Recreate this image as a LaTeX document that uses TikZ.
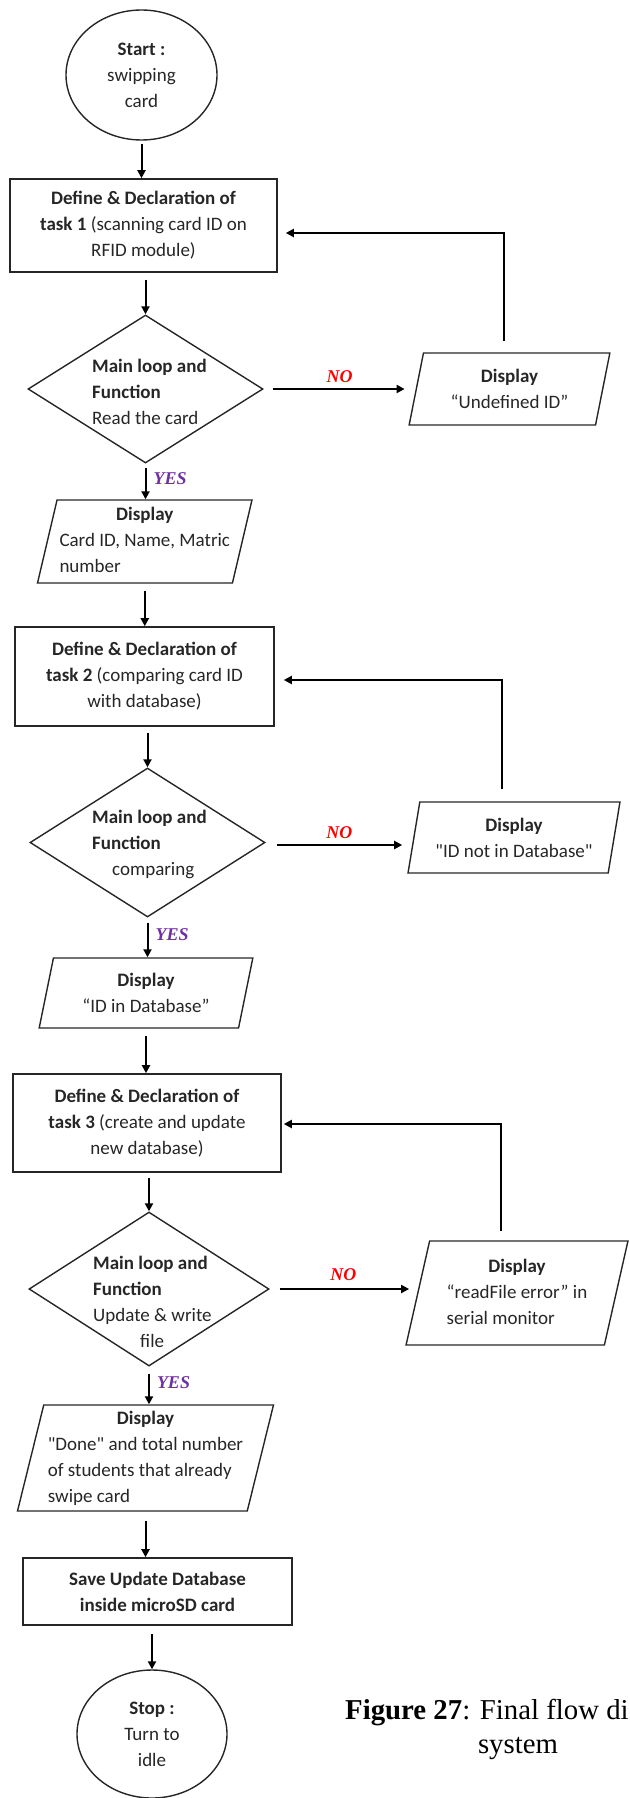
\documentclass[tikz,border=0pt]{standalone}
\usepackage{fontspec}
\setmainfont{Carlito}
\newfontfamily\capfont{Liberation Serif}
\usetikzlibrary{arrows.meta,positioning,shapes.geometric}
\definecolor{txtdk}{HTML}{262626}
\definecolor{nored}{HTML}{FF0000}
\definecolor{yespurple}{HTML}{7030A0}
\newcommand{\flowfont}{\fontsize{19}{26}\selectfont}
\tikzset{
  term/.style     = {ellipse, draw=black!85, line width=1.4pt, font=\flowfont,
                     text=txtdk, align=center, inner sep=0pt},
  procbox/.style  = {rectangle, draw=black!85, line width=1.6pt, font=\flowfont,
                     text=txtdk, align=center, inner sep=2pt},
  decis/.style    = {diamond, draw=black!85, line width=1.4pt, inner sep=0pt},
  decistxt/.style = {font=\flowfont, text=txtdk, align=left, inner sep=0pt, anchor=west},
  iobox/.style    = {trapezium, trapezium left angle=76.5, trapezium right angle=103.5,
                     trapezium stretches=true, draw=black!85, line width=1.4pt,
                     font=\flowfont, text=txtdk, align=center, inner sep=1pt},
  arr/.style      = {-{Triangle[length=8pt,width=8pt]}, line width=2pt, black},
  nolab/.style    = {font=\capfont\fontsize{18}{18}\selectfont\bfseries\itshape,
                     text=nored, inner sep=1pt},
  yeslab/.style   = {font=\capfont\fontsize{18}{18}\selectfont\bfseries\itshape,
                     text=yespurple, inner sep=1pt},
  capt/.style     = {font=\capfont\fontsize{28.8}{30}\selectfont, inner sep=0pt},
}

\begin{document}
\begin{tikzpicture}[x=1pt,y=-1pt]
  \clip (0,0) rectangle (629,1798);

  % main column
  \node[term, minimum width=151pt, minimum height=130pt] (start) at (141.5,75)
    {\textbf{Start :}\\swipping\\card};
  \node[procbox, minimum width=267pt, minimum height=93pt] (box1) at (143.5,225.5)
    {\textbf{Define \& Declaration of}\\\textbf{task 1} (scanning card ID on\\RFID module)};
  \node[decis, minimum width=235pt, minimum height=148pt] (d1) at (145.5,389) {};
  \node[decistxt] (d1txt) at (92,392)
    {\textbf{Main loop and}\\\textbf{Function}\\Read the card};
  \node[iobox, minimum width=215pt, minimum height=83pt] (io2) at (144.75,541.5)
    {\begin{tabular}{@{}l@{}}\multicolumn{1}{@{}c@{}}{\textbf{Display}}\\Card ID, Name, Matric\\number\end{tabular}};
  \node[procbox, minimum width=259pt, minimum height=99pt] (box2) at (144.5,676.5)
    {\textbf{Define \& Declaration of}\\\textbf{task 2} (comparing card ID\\with database)};
  \node[decis, minimum width=235pt, minimum height=149pt] (d2) at (147.5,842.5) {};
  \node[decistxt] (d2txt) at (92,844)
    {\textbf{Main loop and}\\\textbf{Function}\\\hspace*{20pt}comparing};
  \node[iobox, minimum width=214pt, minimum height=70pt] (io3) at (146,993)
    {\textbf{Display}\\“ID in Database”};
  \node[procbox, minimum width=268pt, minimum height=98pt] (box3) at (147,1123)
    {\textbf{Define \& Declaration of}\\\textbf{task 3} (create and update\\new database)};
  \node[decis, minimum width=240pt, minimum height=154pt] (d3) at (149,1289) {};
  \node[decistxt] (d3txt) at (93,1301.5)
    {\textbf{Main loop and}\\\textbf{Function}\\Update \& write\\\hspace*{47pt}file};
  \node[iobox, minimum width=257pt, minimum height=100pt] (io4) at (145.5,1458)
    {\begin{tabular}{@{}l@{}}\multicolumn{1}{@{}c@{}}{\textbf{Display}}\\\textquotedbl Done\textquotedbl{} and total number\\of students that already\\swipe card\end{tabular}};
  \node[procbox, minimum width=269pt, minimum height=67pt] (box4) at (157.5,1591.5)
    {\textbf{Save Update Database}\\\textbf{inside microSD card}};
  \node[term, minimum width=150pt, minimum height=128pt] (stop) at (152,1734)
    {\textbf{Stop :}\\Turn to\\idle};

  % error outputs
  \node[iobox, minimum width=201pt, minimum height=72pt] (io1) at (509.5,389)
    {\textbf{Display}\\“Undefined ID”};
  \node[iobox, minimum width=212pt, minimum height=71pt] (io2r) at (514,837.5)
    {\textbf{Display}\\\textquotedbl ID not in Database\textquotedbl};
  \node[iobox, minimum width=222pt, minimum height=104pt] (io3r) at (517,1293)
    {\begin{tabular}{@{}l@{}}\multicolumn{1}{@{}c@{}}{\textbf{Display}}\\“readFile error” in\\serial monitor\end{tabular}};

  % caption
  \node[capt, anchor=west] (cap1) at (345,1713) {\textbf{Figure 27}: Final flow di};
  \node[capt] (cap2) at (518,1748) {system};

  % flow
  \draw[arr, shorten <=3pt] (start.south) -- (start.south |- box1.north);
  \draw[arr, shorten <=7pt] (box1.south -| d1.north) -- (d1.north);
  \draw[arr, shorten <=4pt] (d1.south) -- (d1.south |- io2.north)
    node[yeslab, midway, right, xshift=6pt, yshift=3pt] {YES};
  \draw[arr, shorten <=7pt] (io2.south) -- (io2.south |- box2.north);
  \draw[arr, shorten <=6pt] (box2.south -| d2.north) -- (d2.north);
  \draw[arr, shorten <=5pt] (d2.south) -- (d2.south |- io3.north)
    node[yeslab, midway, right, xshift=6pt, yshift=3pt] {YES};
  \draw[arr, shorten <=7pt] (io3.south) -- (io3.south |- box3.north);
  \draw[arr, shorten <=5pt] (box3.south -| d3.north) -- (d3.north);
  \draw[arr, shorten <=7pt] (d3.south) -- (d3.south |- io4.north)
    node[yeslab, midway, right, xshift=6pt, yshift=3pt] {YES};
  \draw[arr, shorten <=9pt] (io4.south) -- (io4.south |- box4.north);
  \draw[arr, shorten <=8pt] (box4.south -| stop.north) -- (stop.north);

  % NO branches
  \draw[arr, shorten <=9pt, shorten >=11pt] (d1.east) -- (d1.east -| io1.west)
    node[nolab, midway, above, yshift=4pt] {NO};
  \draw[arr, shorten <=11pt, shorten >=11pt] ([yshift=-2.5pt]d2.east) -- ([yshift=-2.5pt]d2.east -| io2r.west)
    node[nolab, midway, above, yshift=4pt] {NO};
  \draw[arr, shorten <=10pt, shorten >=8pt] (d3.east) -- (d3.east -| io3r.west)
    node[nolab, midway, above, yshift=6pt] {NO};

  % back to the task boxes
  \draw[arr, shorten <=11pt, shorten >=8pt] ([xshift=-5.5pt]io1.north) |- ([yshift=-7.5pt]box1.east);
  \draw[arr, shorten <=12pt, shorten >=9pt] ([xshift=-12pt]io2r.north) |- ([yshift=-3.5pt]box2.east);
  \draw[arr, shorten <=9pt, shorten >=2pt] ([xshift=-16pt]io3r.north) |- ([yshift=-1pt]box3.east);
\end{tikzpicture}
\end{document}
